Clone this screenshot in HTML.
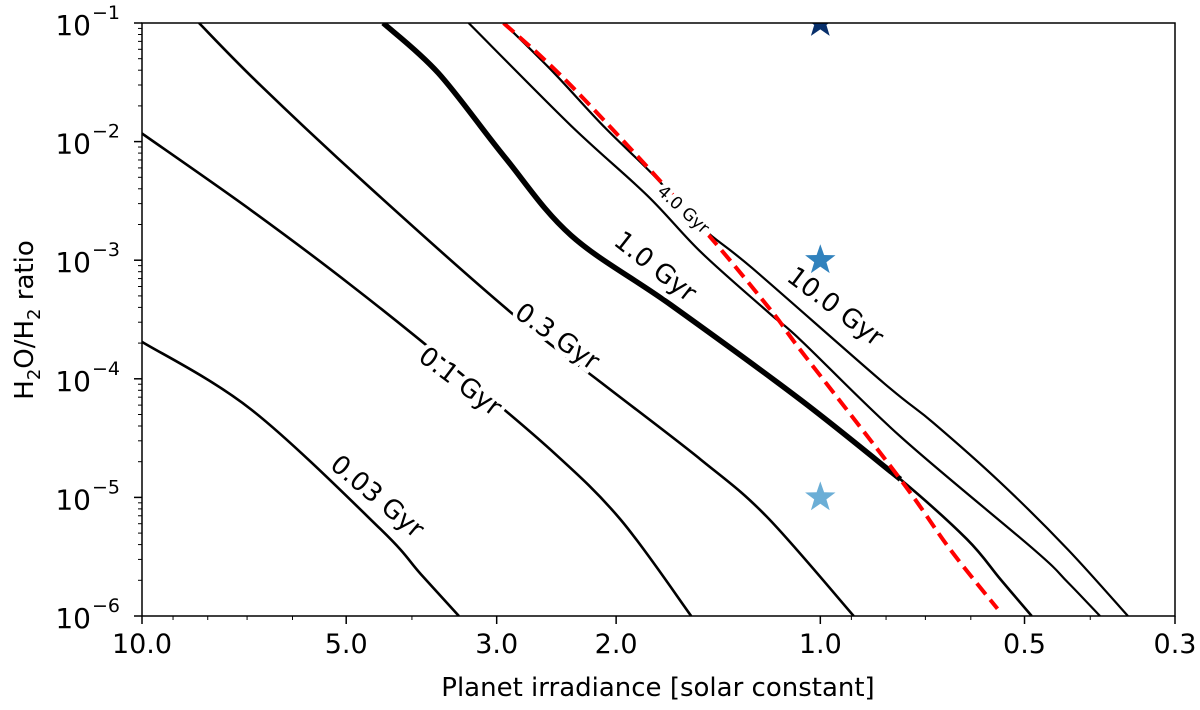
<!DOCTYPE html>
<html><head><meta charset="utf-8"><style>
body{margin:0;background:#fff;}
svg text{font-family:"DejaVu Sans","Liberation Sans",sans-serif;}
</style></head><body>
<svg id="chart" width="1200" height="705" viewBox="0 0 1200 705" xmlns="http://www.w3.org/2000/svg">
<g id="plot"></g>
<text x="658" y="696" font-size="26" text-anchor="middle">Planet irradiance [solar constant]</text>
<text transform="translate(33,320) rotate(-90)" font-size="26" text-anchor="middle">H<tspan font-size="18" dy="7">2</tspan><tspan dy="-7">O/H</tspan><tspan font-size="18" dy="7">2</tspan><tspan dy="-7"> ratio</tspan></text>
</svg>
<script>
const xTicks=[10,5,3,2,1,0.5,0.3];
const xTickLabels=["10.0","5.0","3.0","2.0","1.0","0.5","0.3"];
const xMinor=[9,8,7,6,4,0.9,0.8,0.7,0.6,0.4];
const yTicks=[-1,-2,-3,-4,-5,-6];
const c003S=[10,6.90,4.45,3.88,3.41];
const c003R=[2.05e-4,5.5e-5,5.4e-6,2.25e-6,1e-6];
const c01S=[10,6.90,4.92,3.51,2.50,1.97,1.55];
const c01R=[1.17e-2,2.63e-3,6.17e-4,1.31e-4,2.53e-5,6.5e-6,1e-6];
const c03S=[8.24,6.68,4.60,2.83,2.11,1.50,1.20,0.893];
const c03R=[1e-1,2.96e-2,4.03e-3,3.45e-4,9.4e-5,2.08e-5,6.9e-6,1e-6];
const c1S=[4.41,3.66,2.93,2.33,1.66,1.07,0.762,0.608,0.543,0.488];
const c1R=[1e-1,3.8e-2,7.6e-3,1.62e-3,4.19e-4,6.67e-5,1.42e-5,4.44e-6,2.05e-6,1e-6];
const c4S=[3.30,2.33,1.80,1.50,1.19,1.07,0.762,0.485,0.432,0.387];
const c4R=[0.1,1.36e-2,3.52e-3,1.17e-3,3.59e-4,2.13e-4,3.26e-5,3.66e-6,1.93e-6,1e-6];
const c10S=[2.93,2.47,2.09,1.76,1.49,1.26,0.807,0.682,0.543,0.432,0.352];
const c10R=[0.1,3.8e-2,1.36e-2,5.18e-3,1.86e-3,8.57e-4,9.25e-5,4.27e-5,1.34e-5,3.66e-6,1e-6];
const redS=[2.93,2.33,1.55,1.19,1.07,0.762,0.644,0.548];
const redR=[0.1,2.96e-2,2.39e-3,3.95e-4,1.75e-4,1.42e-5,3.66e-6,1.15e-6];
const starS=[1,1,1];
const starR=[1e-1,1e-3,1e-5];
const starColors=["#08306b","#3182bd","#6baed6"];

const L=142,R=1175,T=23,B=616;
const X=s=>L+(1-Math.log10(s))/(1-Math.log10(0.3))*(R-L);
const Y=r=>T+(-1-Math.log10(r))/5*(B-T);
const NS="http://www.w3.org/2000/svg";
const plot=document.getElementById('plot');
function mk(tag,attrs,parent){const e=document.createElementNS(NS,tag);for(const k in attrs)e.setAttribute(k,attrs[k]);(parent||plot).appendChild(e);return e;}
const defs=mk('defs',{});
const cp=mk('clipPath',{id:'clip'},defs);
mk('rect',{x:L,y:T,width:R-L,height:B-T},cp);
const g=mk('g',{'clip-path':'url(#clip)'});


function smooth(P){
  let d='M'+P[0][0].toFixed(1)+','+P[0][1].toFixed(1);
  for(let i=0;i<P.length-1;i++){
    const p0=P[Math.max(0,i-1)],p1=P[i],p2=P[i+1],p3=P[Math.min(P.length-1,i+2)];
    const c1=[p1[0]+(p2[0]-p0[0])/6,p1[1]+(p2[1]-p0[1])/6];
    const c2=[p2[0]-(p3[0]-p1[0])/6,p2[1]-(p3[1]-p1[1])/6];
    d+='C'+c1.map(v=>v.toFixed(1)).join(',')+' '+c2.map(v=>v.toFixed(1)).join(',')+' '+p2[0].toFixed(1)+','+p2[1].toFixed(1);
  }
  return d;
}
function line(S,Rr,name,w,color,dash){
  const P=S.map((s,i)=>[X(s),Y(Rr[i])]);
  const p=mk('path',{d:smooth(P),fill:'none',stroke:color,'stroke-width':w,'stroke-linejoin':'round'},g);
  if(dash)p.setAttribute('stroke-dasharray',dash);
  
  
}
line(c003S,c003R,'curve-0.03-gyr',2.6,'#000');
line(c01S,c01R,'curve-0.1-gyr',2.6,'#000');
line(c03S,c03R,'curve-0.3-gyr',2.6,'#000');
line(c1S,c1R,'curve-1.0-gyr',2.6,'#000');
line(c1S.slice(0,7),c1R.slice(0,7),'curve-1.0-gyr-thick',5.5,'#000');
line(c4S,c4R,'curve-4.0-gyr',2.2,'#000');
line(c10S,c10R,'curve-10.0-gyr',2.2,'#000');
line(redS,redR,'red-dashed-limit',4,'#f00','14,7');
function star(cx,cy,r){let pts=[];for(let i=0;i<10;i++){const a=-Math.PI/2+i*Math.PI/5;const rr=i%2?r*0.4:r;pts.push((cx+rr*Math.cos(a)).toFixed(1)+','+(cy+rr*Math.sin(a)).toFixed(1));}return pts.join(' ');}
starS.forEach((s,i)=>{
  const p=mk('polygon',{points:star(X(s),Y(starR[i]),16),fill:starColors[i]},g);
  
  
});
const labels=[["0.03 Gyr",377,497,40,26],["0.1 Gyr",460,382,37,26],["0.3 Gyr",557,337,35,26],["1.0 Gyr",655,267,38,26],["4.0 Gyr",683,210,42,17],["10.0 Gyr",835,307,37,26]];
labels.forEach(l=>{
  const t=mk('text',{x:l[1],y:l[2],'font-size':l[4],'text-anchor':'middle','dominant-baseline':'central',transform:`rotate(${l[3]} ${l[1]} ${l[2]})`,stroke:'#fff','stroke-width':9,'paint-order':'stroke',fill:'#000'},g);
  t.textContent=l[0];
  
  
});
const frame=mk('rect',{x:L,y:T,width:R-L,height:B-T,fill:'none',stroke:'#000','stroke-width':1.5});


xTicks.forEach((v,i)=>{
  const x=X(v);
  const tk=mk('line',{x1:x,x2:x,y1:B,y2:B+8,stroke:'#000','stroke-width':1.5});
  
  
  const t=mk('text',{x:x,y:B+37,'font-size':27,'text-anchor':'middle'});
  t.textContent=xTickLabels[i];
  
  
});
xMinor.forEach(v=>{
  const x=X(v);
  const tk=mk('line',{x1:x,x2:x,y1:B,y2:B+4,stroke:'#000','stroke-width':1});
  
  
});
yTicks.forEach(e=>{
  const y=Y(Math.pow(10,e));
  const tk=mk('line',{x1:L-8,x2:L,y1:y,y2:y,stroke:'#000','stroke-width':1.5});
  
  
  const t=mk('text',{x:91,y:y+12,'font-size':28,'text-anchor':'end'});
  t.textContent='10';
  
  
  const s=mk('text',{x:92,y:y-4,'font-size':19,'text-anchor':'start'});
  s.textContent='\u2212'+(-e);
  
  
  if(e>-6){for(let k=2;k<=9;k++){
    const yy=Y(k*Math.pow(10,e-1));
    const m=mk('line',{x1:L-4,x2:L,y1:yy,y2:yy,stroke:'#000','stroke-width':1});
    
    
  }}
});
</script>
</body></html>
